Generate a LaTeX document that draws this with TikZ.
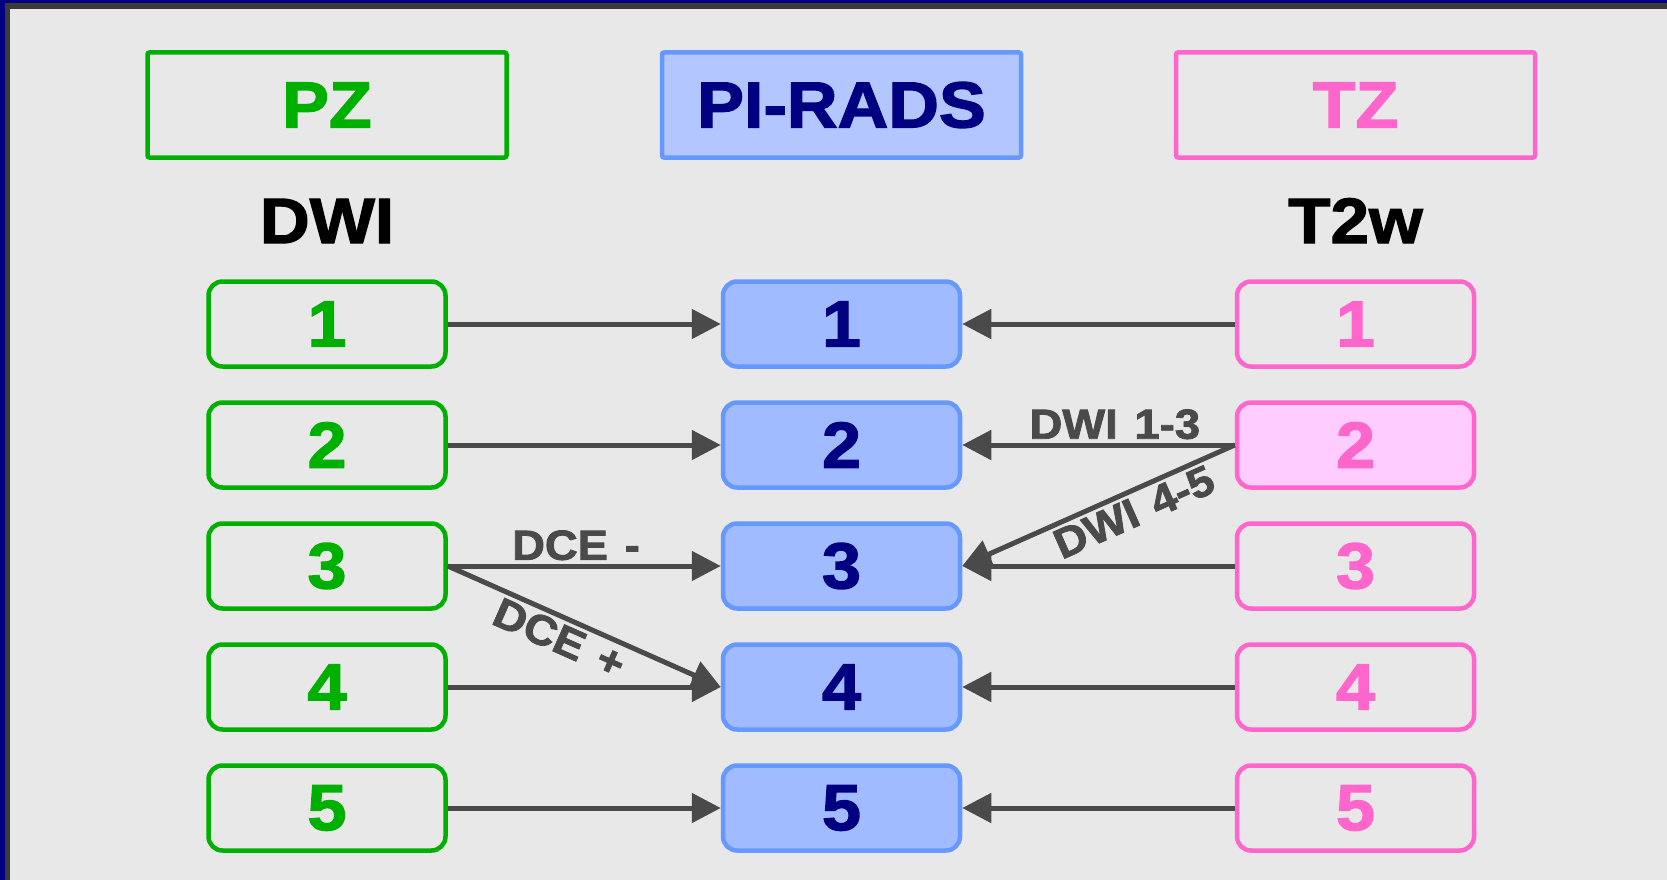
\documentclass[tikz,border=0pt]{standalone}
\usepackage{fontspec}
\setmainfont{Liberation Sans}[BoldFeatures={FakeBold=2, FakeStretch=1.08}]
\usetikzlibrary{arrows.meta}

\definecolor{framenavy}{HTML}{000080}
\definecolor{framegray}{HTML}{3A3A3A}
\definecolor{paper}{HTML}{E8E8E8}
\definecolor{pzgreen}{HTML}{00B000}
\definecolor{tzpink}{HTML}{FF66CC}
\definecolor{tzpale}{HTML}{FFCCFF}
\definecolor{prblue}{HTML}{6699FF}
\definecolor{prfill}{HTML}{A0BBFF}
\definecolor{prhead}{HTML}{B3C6FF}
\definecolor{prtext}{HTML}{000080}
\definecolor{linkgray}{HTML}{4A4A4A}

\begin{document}
\begin{tikzpicture}[x=1pt, y=-1pt,
  head/.style={draw, line width=4.5pt, minimum width=359pt, minimum height=105pt,
    rounded corners=2pt, font=\fontsize{65}{65}\selectfont\bfseries},
  score/.style={draw, line width=4.5pt, minimum width=237pt, minimum height=85pt,
    rounded corners=14pt, font=\fontsize{65}{65}\selectfont\bfseries},
  seq/.style={anchor=base, font=\fontsize{64}{64}\selectfont\bfseries},
  link/.style={draw=linkgray, line width=5pt, -{Triangle[length=29pt,width=29pt]}},
  lbl/.style={text=linkgray, font=\fontsize{42}{42}\selectfont\bfseries}]
  \useasboundingbox (0,0) rectangle (1667,880);
  % Frame and background
  \fill[framenavy] (0,0) rectangle (1667,880);
  \fill[framegray] (5,3) rectangle (1667,880);
  \fill[paper] (10,9) rectangle (1667,880);

  % Headers
  \node[head, draw=pzgreen, text=pzgreen] (pz) at (327,105) {PZ};
  \node[head, draw=prblue, fill=prhead, text=prtext] (pirads) at (841.5,105) {PI-RADS};
  \node[head, draw=tzpink, text=tzpink] (tz) at (1355.5,105) {TZ};
  \node[seq] (dwi) at (327,243) {DWI};
  \node[seq] (tw) at (1355.5,243) {T2w};

  % PZ scores
  \node[score, draw=pzgreen, text=pzgreen] (pz1) at (327,324) {1};
  \node[score, draw=pzgreen, text=pzgreen] (pz2) at (327,445) {2};
  \node[score, draw=pzgreen, text=pzgreen] (pz3) at (327,566) {3};
  \node[score, draw=pzgreen, text=pzgreen] (pz4) at (327,687) {4};
  \node[score, draw=pzgreen, text=pzgreen] (pz5) at (327,808) {5};

  % PI-RADS scores
  \node[score, draw=prblue, fill=prfill, text=prtext] (pr1) at (841.5,324) {1};
  \node[score, draw=prblue, fill=prfill, text=prtext] (pr2) at (841.5,445) {2};
  \node[score, draw=prblue, fill=prfill, text=prtext] (pr3) at (841.5,566) {3};
  \node[score, draw=prblue, fill=prfill, text=prtext] (pr4) at (841.5,687) {4};
  \node[score, draw=prblue, fill=prfill, text=prtext] (pr5) at (841.5,808) {5};

  % TZ scores
  \node[score, draw=tzpink, text=tzpink] (tz1) at (1355.5,324) {1};
  \node[score, draw=tzpink, fill=tzpale, text=tzpink] (tz2) at (1355.5,445) {2};
  \node[score, draw=tzpink, text=tzpink] (tz3) at (1355.5,566) {3};
  \node[score, draw=tzpink, text=tzpink] (tz4) at (1355.5,687) {4};
  \node[score, draw=tzpink, text=tzpink] (tz5) at (1355.5,808) {5};

  % PZ -> PI-RADS
  \draw[link] (pz1.east) -- (pr1.west);
  \draw[link] (pz2.east) -- (pr2.west);
  \draw[link] (pz3.east) -- (pr3.west) node[lbl, pos=0.47, above]{DCE\hspace{0.4em}-};
  \draw[link] (pz3.east) -- (pr4.west) node[lbl, pos=0.44, below, sloped]{DCE\hspace{0.4em}+};
  \draw[link] (pz4.east) -- (pr4.west);
  \draw[link] (pz5.east) -- (pr5.west);

  % TZ -> PI-RADS
  \draw[link] (tz1.west) -- (pr1.east);
  \draw[link] (tz2.west) -- (pr2.east) node[lbl, pos=0.44, above]{DWI\hspace{0.4em}1-3};
  \draw[link] (tz2.west) -- (pr3.east) node[lbl, pos=0.4, below, sloped]{DWI\hspace{0.4em}4-5};
  \draw[link] (tz3.west) -- (pr3.east);
  \draw[link] (tz4.west) -- (pr4.east);
  \draw[link] (tz5.west) -- (pr5.east);
\end{tikzpicture}
\end{document}
